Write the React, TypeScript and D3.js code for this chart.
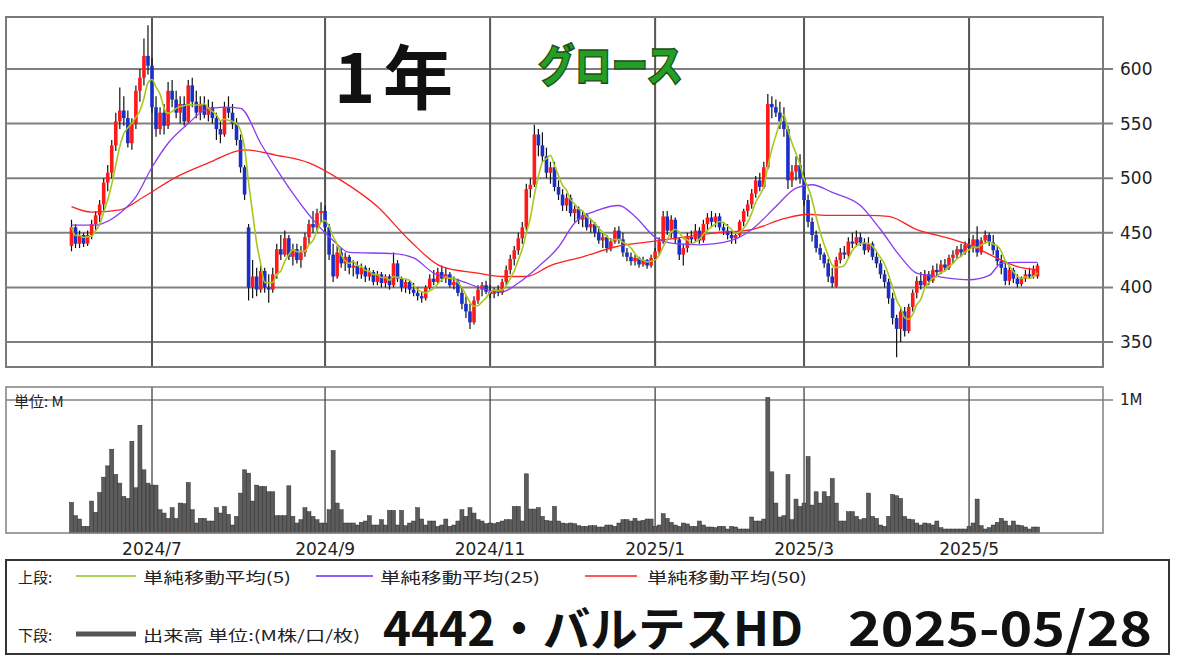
import React from "react";
import * as d3 from "d3";

// ---------- DATA ----------
const HOLIDAYS = [
  "2024-07-15", "2024-08-12", "2024-09-16", "2024-09-23", "2024-10-14", "2024-11-04",
  "2024-12-31", "2025-01-01", "2025-01-02", "2025-01-03", "2025-01-13", "2025-02-11",
  "2025-02-24", "2025-03-20", "2025-04-29", "2025-05-05", "2025-05-06",
];

// [open, high, low, close] per trading day
const OHLC: number[][] = [
  [438, 462, 433, 455], [455, 458, 436, 440], [440, 452, 436, 448], [448, 450, 437, 440], [440, 452, 438, 448],
  [448, 462, 444, 458], [458, 470, 452, 466], [466, 480, 460, 476], [476, 500, 470, 496], [496, 512, 488, 505],
  [505, 535, 500, 530], [530, 560, 525, 552], [552, 583, 545, 562], [562, 575, 548, 555], [555, 562, 528, 532],
  [532, 555, 526, 550], [550, 585, 545, 580], [580, 600, 570, 592], [592, 628, 585, 612], [612, 640, 595, 603],
  [603, 610, 560, 565], [565, 575, 538, 545], [545, 565, 540, 560], [560, 568, 540, 548], [548, 588, 545, 580],
  [580, 590, 565, 572], [572, 580, 555, 560], [560, 575, 550, 568], [568, 575, 548, 552], [552, 590, 550, 585],
  [585, 592, 565, 570], [570, 580, 555, 560], [560, 575, 553, 568], [568, 575, 555, 558], [558, 572, 552, 565],
  [565, 570, 550, 555], [555, 560, 535, 545], [545, 552, 532, 540], [540, 570, 538, 565], [565, 575, 555, 560],
  [560, 568, 545, 550], [550, 555, 530, 535], [535, 540, 505, 510], [510, 512, 480, 485], [455, 458, 388, 400],
  [400, 425, 390, 410], [410, 418, 392, 398], [398, 420, 395, 415], [415, 418, 395, 400], [400, 412, 386, 398],
  [398, 418, 395, 412], [412, 440, 408, 435], [435, 448, 425, 430], [430, 452, 428, 445], [445, 448, 425, 428],
  [428, 440, 420, 435], [435, 440, 422, 425], [425, 438, 418, 432], [432, 450, 428, 446], [446, 462, 440, 458],
  [458, 470, 450, 455], [455, 472, 450, 468], [468, 478, 460, 470], [470, 475, 450, 455], [455, 458, 425, 430],
  [430, 440, 405, 410], [410, 438, 408, 432], [432, 436, 418, 422], [422, 432, 415, 428], [428, 430, 412, 418],
  [418, 425, 410, 420], [420, 424, 408, 412], [412, 422, 408, 418], [418, 420, 405, 410], [410, 418, 406, 414],
  [414, 416, 402, 405], [405, 415, 402, 412], [412, 414, 400, 404], [404, 412, 400, 410], [410, 412, 398, 402],
  [402, 432, 400, 422], [422, 425, 405, 408], [408, 410, 396, 400], [400, 408, 395, 405], [405, 406, 394, 398],
  [398, 404, 392, 395], [395, 400, 388, 392], [392, 396, 386, 390], [390, 402, 388, 400], [400, 412, 398, 408],
  [408, 416, 402, 405], [405, 418, 403, 414], [414, 420, 405, 408], [408, 418, 404, 412], [412, 414, 400, 402],
  [402, 410, 398, 405], [405, 408, 392, 395], [395, 400, 380, 385], [385, 392, 372, 378], [378, 385, 362, 368],
  [368, 392, 366, 388], [388, 402, 385, 398], [398, 405, 392, 402], [402, 406, 394, 396], [396, 402, 390, 394],
  [394, 400, 390, 398], [398, 402, 392, 395], [395, 408, 393, 405], [405, 420, 402, 416], [416, 430, 412, 426],
  [426, 438, 420, 434], [434, 450, 430, 445], [445, 460, 440, 455], [455, 495, 452, 490], [490, 500, 482, 494],
  [494, 549, 492, 540], [540, 545, 520, 530], [530, 542, 515, 520], [520, 528, 500, 505], [505, 515, 495, 510],
  [510, 515, 488, 492], [492, 498, 480, 485], [485, 490, 470, 475], [475, 486, 470, 482], [482, 485, 465, 468],
  [468, 475, 460, 472], [472, 474, 458, 462], [462, 470, 455, 466], [466, 468, 452, 455], [455, 462, 450, 458],
  [458, 460, 446, 450], [450, 456, 440, 443], [443, 450, 436, 446], [446, 448, 432, 436], [436, 445, 433, 442],
  [442, 455, 440, 452], [452, 456, 440, 444], [444, 450, 428, 432], [432, 436, 424, 428], [428, 432, 420, 424],
  [424, 430, 420, 427], [427, 428, 418, 421], [421, 428, 419, 425], [425, 426, 417, 420], [420, 430, 418, 427],
  [427, 436, 424, 433], [433, 446, 430, 442], [442, 470, 440, 465], [465, 470, 448, 452], [452, 466, 445, 462],
  [462, 464, 440, 444], [444, 446, 425, 430], [430, 440, 420, 436], [436, 450, 432, 446], [446, 452, 440, 444],
  [444, 458, 442, 452], [452, 455, 440, 443], [443, 462, 441, 458], [458, 468, 452, 464], [464, 470, 455, 460],
  [460, 468, 455, 465], [465, 468, 452, 455], [455, 460, 448, 452], [452, 458, 444, 448], [448, 452, 440, 445],
  [445, 450, 440, 448], [448, 462, 446, 460], [460, 472, 456, 470], [470, 480, 465, 476], [476, 490, 472, 486],
  [486, 502, 482, 498], [498, 505, 488, 492], [492, 515, 490, 510], [510, 577, 508, 568], [568, 575, 555, 565],
  [565, 572, 556, 560], [560, 570, 545, 552], [552, 565, 538, 545], [545, 548, 490, 498], [498, 512, 492, 506],
  [506, 520, 498, 512], [512, 522, 495, 500], [500, 505, 475, 480], [480, 485, 455, 460], [460, 464, 442, 448],
  [448, 452, 432, 436], [436, 440, 425, 430], [430, 432, 418, 422], [422, 426, 405, 410], [410, 418, 400, 404],
  [401, 428, 400, 425], [425, 436, 422, 432], [432, 438, 426, 430], [430, 446, 428, 442], [442, 450, 436, 440],
  [440, 452, 437, 446], [446, 450, 438, 441], [441, 445, 430, 434], [434, 446, 432, 440], [440, 442, 425, 428],
  [428, 432, 418, 422], [422, 425, 408, 412], [412, 416, 400, 405], [405, 408, 385, 390], [390, 395, 366, 372],
  [372, 375, 336, 362], [362, 382, 350, 378], [378, 382, 355, 360], [360, 385, 358, 382], [382, 398, 378, 395],
  [395, 410, 390, 406], [406, 414, 398, 402], [402, 416, 400, 412], [412, 415, 402, 406], [406, 420, 404, 416],
  [416, 422, 410, 414], [414, 425, 412, 421], [421, 426, 415, 418], [418, 430, 416, 427], [427, 434, 422, 430],
  [430, 438, 426, 435], [435, 440, 428, 432], [432, 442, 430, 439], [439, 445, 432, 436], [436, 448, 432, 444],
  [444, 456, 428, 432], [432, 446, 430, 443], [443, 452, 440, 448], [448, 450, 438, 441], [441, 448, 430, 434],
  [434, 438, 420, 424], [424, 430, 412, 418], [418, 422, 402, 406], [406, 420, 402, 416], [416, 418, 404, 408],
  [408, 412, 400, 403], [403, 410, 401, 408], [408, 416, 405, 412], [412, 418, 408, 410], [410, 420, 408, 417],
  [410, 422, 408, 420],
];

// volume in millions of shares, per trading day
const VOLUME: number[] = [
  0.23, 0.13, 0.105, 0.05, 0.05, 0.24, 0.155, 0.305, 0.42, 0.505,
  0.63, 0.44, 0.375, 0.275, 0.26, 0.69, 0.34, 0.81, 0.475, 0.375,
  0.36, 0.36, 0.175, 0.15, 0.11, 0.19, 0.11, 0.225, 0.22, 0.38,
  0.175, 0.075, 0.11, 0.11, 0.09, 0.09, 0.19, 0.15, 0.2, 0.14,
  0.06, 0.125, 0.3, 0.475, 0.45, 0.24, 0.36, 0.35, 0.35, 0.31,
  0.31, 0.13, 0.13, 0.13, 0.355, 0.125, 0.075, 0.1, 0.19, 0.16,
  0.125, 0.1, 0.075, 0.075, 0.175, 0.62, 0.225, 0.175, 0.075, 0.075,
  0.075, 0.06, 0.08, 0.09, 0.13, 0.06, 0.06, 0.1, 0.06, 0.17,
  0.17, 0.06, 0.17, 0.055, 0.075, 0.09, 0.19, 0.105, 0.06, 0.09,
  0.09, 0.05, 0.06, 0.105, 0.05, 0.06, 0.09, 0.175, 0.125, 0.19,
  0.15, 0.1, 0.09, 0.07, 0.075, 0.07, 0.08, 0.09, 0.1, 0.1,
  0.2, 0.2, 0.09, 0.445, 0.18, 0.18, 0.19, 0.125, 0.095, 0.09,
  0.2, 0.09, 0.075, 0.07, 0.075, 0.07, 0.055, 0.05, 0.05, 0.055,
  0.055, 0.045, 0.045, 0.06, 0.06, 0.05, 0.075, 0.1, 0.1, 0.09,
  0.11, 0.09, 0.095, 0.105, 0.105, 0.05, 0.06, 0.145, 0.11, 0.08,
  0.06, 0.05, 0.075, 0.068, 0.05, 0.05, 0.09, 0.06, 0.045, 0.045,
  0.04, 0.05, 0.05, 0.03, 0.05, 0.045, 0.03, 0.03, 0.03, 0.12,
  0.09, 0.09, 0.105, 1.02, 0.46, 0.225, 0.12, 0.13, 0.44, 0.1,
  0.255, 0.2, 0.225, 0.575, 0.21, 0.31, 0.225, 0.31, 0.275, 0.41,
  0.225, 0.09, 0.09, 0.16, 0.16, 0.125, 0.1, 0.11, 0.3, 0.125,
  0.11, 0.06, 0.05, 0.125, 0.29, 0.28, 0.26, 0.125, 0.105, 0.1,
  0.075, 0.06, 0.075, 0.07, 0.06, 0.09, 0.04, 0.03, 0.03, 0.03,
  0.03, 0.03, 0.03, 0.05, 0.075, 0.255, 0.055, 0.03, 0.04, 0.06,
  0.08, 0.11, 0.09, 0.055, 0.09, 0.06, 0.055, 0.045, 0.03, 0.045,
  0.045,
];

// moving averages: [day index, value]
const MA25_POINTS: number[][] = [
  [0, 457], [6, 457], [8, 459], [12, 468], [16, 483], [20, 510], [24, 532], [29, 550], [33, 562], [38, 565],
  [42, 564], [47, 532], [51, 508], [55, 486], [60, 462], [65, 443], [69, 432], [80, 431], [85, 427], [90, 413],
  [96, 407], [103, 398], [107, 396], [111, 404], [116, 419], [121, 437], [125, 459], [131, 471], [136, 475],
  [140, 465], [145, 446], [150, 440], [156, 439], [164, 443], [169, 453], [175, 474], [180, 491], [184, 494],
  [189, 487], [196, 475], [201, 453], [206, 428], [210, 413], [215, 410], [223, 407], [228, 411], [231, 422],
  [235, 423], [240, 423],
];
const MA50_POINTS: number[][] = [
  [0, 474], [5, 469], [12, 471], [18, 483], [26, 501], [34, 514], [43, 526], [51, 521], [59, 514], [67, 498],
  [76, 474], [84, 443], [92, 419], [101, 413], [107, 410], [113, 410], [119, 420], [127, 428], [135, 437],
  [144, 442], [152, 446], [160, 450], [169, 453], [177, 463], [183, 467], [188, 466], [198, 466], [203, 465],
  [210, 453], [218, 445], [223, 439], [231, 425], [235, 419], [240, 416],
];

const PRICE_TICKS = [350, 400, 450, 500, 550, 600];
const MONTH_TICKS = [
  { label: "2024/7", month: "2024-07" },
  { label: "2024/9", month: "2024-09" },
  { label: "2024/11", month: "2024-11" },
  { label: "2025/1", month: "2025-01" },
  { label: "2025/3", month: "2025-03" },
  { label: "2025/5", month: "2025-05" },
];

// ---------- LAYOUT ----------
const W = 1180, H = 663;
const P = { left: 6, right: 1103, top: 17, bottom: 367 };
const V = { left: 6, right: 1103, top: 387, bottom: 533 };
const JP = "'Noto Sans CJK JP', 'Noto Sans', sans-serif";
const NUM = "'DejaVu Sans', sans-serif";

const fmt = d3.timeFormat("%Y-%m-%d");
const DATES = d3.timeDay
  .range(new Date(2024, 5, 3), new Date(2025, 4, 29))
  .filter((d) => d.getDay() !== 0 && d.getDay() !== 6 && !HOLIDAYS.includes(fmt(d)))
  .map(fmt);

export default function App() {
  const n = OHLC.length;
  const x = d3.scaleLinear().domain([0, n - 1]).range([71.5, 1037.5]);
  const y = d3.scaleLinear().domain([350, 600]).range([342, 69]);
  const yv = d3.scaleLinear().domain([0, 1]).range([V.bottom, 400]);
  const step = x(1) - x(0);

  const closes = OHLC.map((d) => d[3]);
  const ma5 = closes.map((_, i) => {
    const s = closes.slice(Math.max(0, i - 4), i + 1);
    return [i, d3.mean(s) as number];
  });

  const line = d3
    .line<number[]>()
    .x((d) => x(d[0]))
    .y((d) => y(d[1]))
    .curve(d3.curveMonotoneX);

  const monthIdx = MONTH_TICKS.map((m) => {
    const idx = DATES.findIndex((d) => d.startsWith(m.month));
    return { ...m, idx };
  });

  return (
    <svg width={W} height={H} style={{ position: "absolute", left: 0, top: 0, background: "#fff" }}>
      <defs>
        <clipPath id="mainClip">
          <rect x={P.left} y={P.top} width={P.right - P.left} height={P.bottom - P.top} />
        </clipPath>
      </defs>

      {/* ===== main panel ===== */}
      <rect x={P.left} y={P.top} width={P.right - P.left} height={P.bottom - P.top} fill="#fff" />
      {PRICE_TICKS.map((v) => (
        <g key={v}>
          <line x1={P.left} x2={P.right + 10} y1={y(v)} y2={y(v)} stroke="#808080" strokeWidth={2} />
          <text x={1120} y={y(v)} dominantBaseline="central" fontFamily={NUM} fontSize={17} fill="#222">
            {v}
          </text>
        </g>
      ))}
      {monthIdx.map((m) => (
        <line key={m.label} x1={x(m.idx)} x2={x(m.idx)} y1={P.top} y2={P.bottom} stroke="#555" strokeWidth={2} />
      ))}
      <rect x={P.left} y={P.top} width={P.right - P.left} height={P.bottom - P.top} fill="none" stroke="#7a7a7a" strokeWidth={2} />

      {/* title */}
      <text x={334} y={103} fontFamily={JP} fontWeight={700} fontSize={70} fill="#111">1</text>
      <text x={383} y={104} fontFamily={JP} fontWeight={700} fontSize={70} fill="#111">年</text>
      <text x={538} y={82} fontFamily={JP} fontWeight={900} fontSize={44} fill="#23a023" stroke="#1d4d1d" strokeWidth={1.4}
        textLength={145} lengthAdjust="spacingAndGlyphs">グロース</text>

      <g clipPath="url(#mainClip)">
        {/* candles */}
        {OHLC.map((d, i) => {
          const [o, h, l, c] = d;
          const up = c >= o;
          const top = y(Math.max(o, c));
          const bot = y(Math.min(o, c));
          return (
            <g key={i}>
              <line x1={x(i)} x2={x(i)} y1={y(h)} y2={y(l)} stroke="#111" strokeWidth={1.2} />
              <rect x={x(i) - 1.8} y={top} width={3.6} height={Math.max(1.4, bot - top)} fill={up ? "#ff1a1a" : "#1a2fc8"} />
            </g>
          );
        })}
        {/* moving averages */}
        <path d={line(MA50_POINTS) || ""} fill="none" stroke="#ff2020" strokeWidth={1.3} />
        <path d={line(MA25_POINTS) || ""} fill="none" stroke="#8a3cf0" strokeWidth={1.3} />
        <path d={line(ma5) || ""} fill="none" stroke="#a6c81c" strokeWidth={1.6} />
      </g>

      {/* ===== volume panel ===== */}
      <rect x={V.left} y={V.top} width={V.right - V.left} height={V.bottom - V.top} fill="#fff" />
      <line x1={V.left} x2={V.right + 10} y1={yv(1)} y2={yv(1)} stroke="#808080" strokeWidth={1.3} />
      {monthIdx.map((m) => (
        <line key={m.label} x1={x(m.idx)} x2={x(m.idx)} y1={V.top} y2={V.bottom} stroke="#444" strokeWidth={1.3} />
      ))}
      {VOLUME.map((v, i) => (
        <rect key={i} x={x(i) - step / 2} y={yv(v)} width={step} height={V.bottom - yv(v)} fill="#5c5c5c" stroke="#2e2e2e" strokeWidth={0.5} />
      ))}
      <rect x={V.left} y={V.top} width={V.right - V.left} height={V.bottom - V.top} fill="none" stroke="#808080" strokeWidth={1.5} />
      <text x={14} y={yv(1)} dominantBaseline="central" fontFamily={JP} fontSize={15} fill="#222">単位: M</text>
      <text x={1120} y={yv(1)} dominantBaseline="central" fontFamily={NUM} fontSize={15} fill="#222">1M</text>

      {/* month labels */}
      {monthIdx.map((m) => (
        <text key={m.label} x={x(m.idx)} y={549} textAnchor="middle" dominantBaseline="central" fontFamily={NUM} fontSize={17} fill="#222">
          {m.label}
        </text>
      ))}

      {/* ===== legend box ===== */}
      <rect x={6} y={560} width={1163} height={94} fill="#fff" stroke="#333" strokeWidth={2} />
      <text x={18} y={576} dominantBaseline="central" fontFamily={JP} fontSize={15} fill="#222">上段:</text>
      <line x1={76} x2={136} y1={576} y2={576} stroke="#8cc21a" strokeWidth={1.5} />
      <text x={143} y={576} dominantBaseline="central" fontFamily={JP} fontSize={15} fill="#222" textLength={148} lengthAdjust="spacingAndGlyphs">単純移動平均(5)</text>
      <line x1={316} x2={373} y1={576} y2={576} stroke="#6a2cf0" strokeWidth={1.5} />
      <text x={380} y={576} dominantBaseline="central" fontFamily={JP} fontSize={15} fill="#222" textLength={160} lengthAdjust="spacingAndGlyphs">単純移動平均(25)</text>
      <line x1={585} x2={637} y1={576} y2={576} stroke="#ff2020" strokeWidth={1.5} />
      <text x={647} y={576} dominantBaseline="central" fontFamily={JP} fontSize={15} fill="#222" textLength={160} lengthAdjust="spacingAndGlyphs">単純移動平均(50)</text>

      <text x={18} y={634} dominantBaseline="central" fontFamily={JP} fontSize={15} fill="#222">下段:</text>
      <line x1={76} x2={136} y1={634} y2={634} stroke="#555" strokeWidth={5} />
      <text x={143} y={634} dominantBaseline="central" fontFamily={JP} fontSize={15} fill="#222" textLength={217} lengthAdjust="spacingAndGlyphs">出来高 単位:(M株/口/枚)</text>

      <text x={383} y={646} fontFamily={JP} fontWeight={700} fontSize={47} fill="#111" textLength={420} lengthAdjust="spacingAndGlyphs">4442・バルテスHD</text>
      <text x={848} y={646} fontFamily={JP} fontWeight={700} fontSize={47} fill="#111" textLength={304} lengthAdjust="spacingAndGlyphs">2025-05/28</text>
    </svg>
  );
}
